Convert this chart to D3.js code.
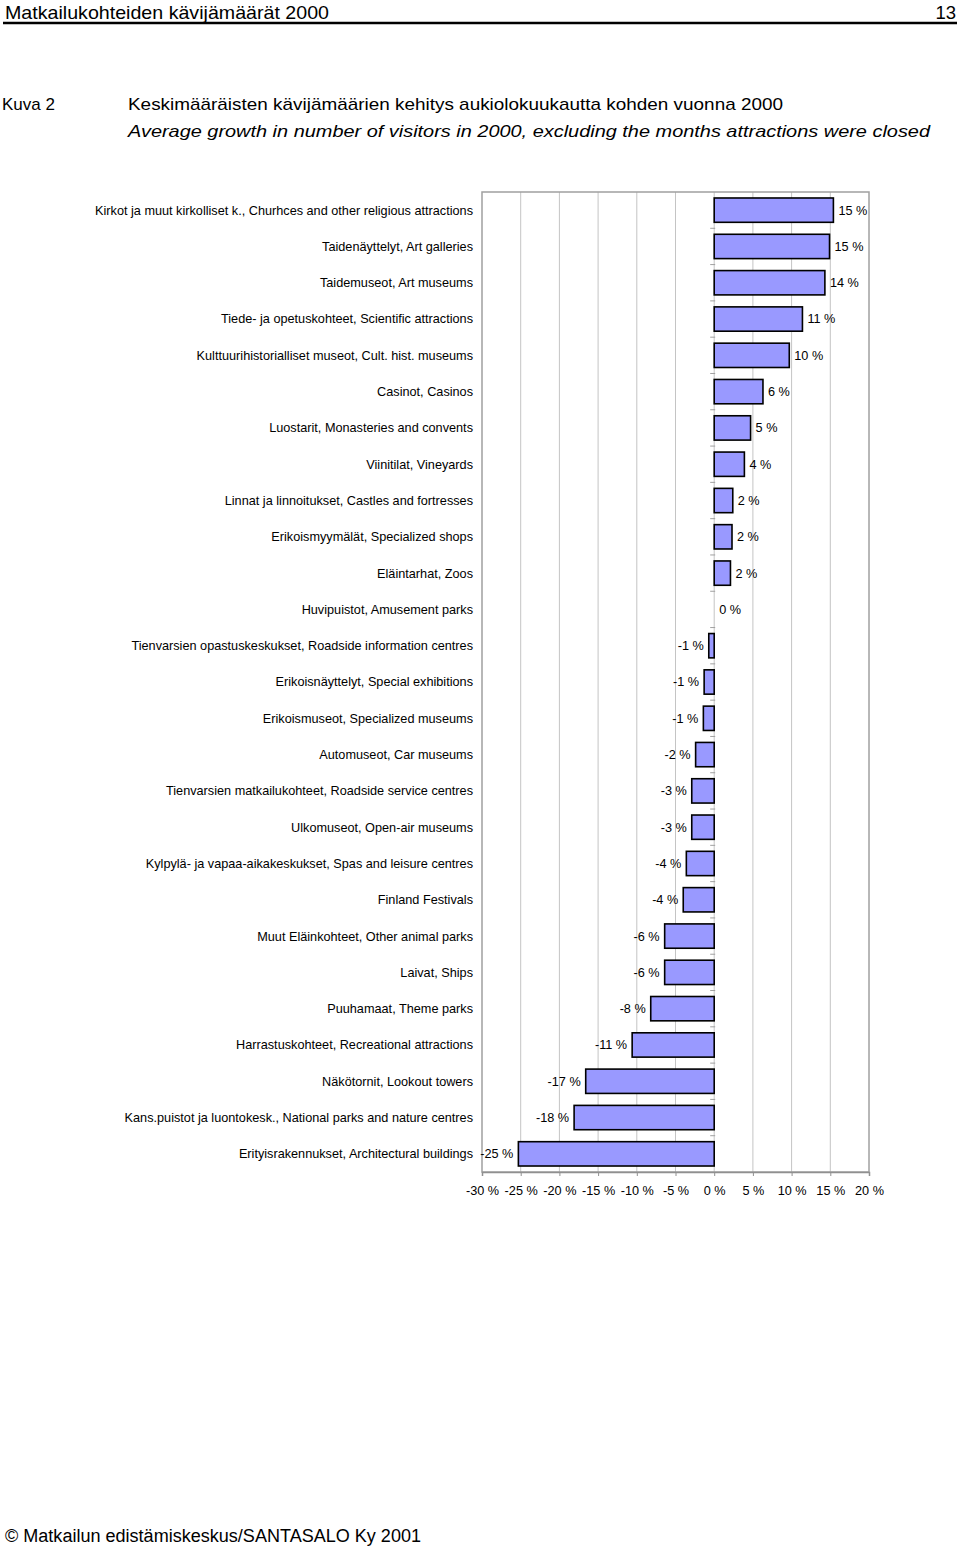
<!DOCTYPE html>
<html><head><meta charset="utf-8">
<script src="https://cdn.jsdelivr.net/npm/d3@7"></script>
<style>body{margin:0;background:#fff}svg{display:block;font-family:Arial,"Liberation Sans",sans-serif}</style>
</head><body>
<script>
const categories = [
 "Kirkot ja muut kirkolliset k., Churhces and other religious attractions",
 "Taidenäyttelyt, Art galleries",
 "Taidemuseot, Art museums",
 "Tiede- ja opetuskohteet, Scientific attractions",
 "Kulttuurihistorialliset museot, Cult. hist. museums",
 "Casinot, Casinos",
 "Luostarit, Monasteries and convents",
 "Viinitilat, Vineyards",
 "Linnat ja linnoitukset, Castles and fortresses",
 "Erikoismyymälät, Specialized shops",
 "Eläintarhat, Zoos",
 "Huvipuistot, Amusement parks",
 "Tienvarsien opastuskeskukset, Roadside information centres",
 "Erikoisnäyttelyt, Special exhibitions",
 "Erikoismuseot, Specialized museums",
 "Automuseot, Car museums",
 "Tienvarsien matkailukohteet, Roadside service centres",
 "Ulkomuseot, Open-air museums",
 "Kylpylä- ja vapaa-aikakeskukset, Spas and leisure centres",
 "Finland Festivals",
 "Muut Eläinkohteet, Other animal parks",
 "Laivat, Ships",
 "Puuhamaat, Theme parks",
 "Harrastuskohteet, Recreational attractions",
 "Näkötornit, Lookout towers",
 "Kans.puistot ja luontokesk., National parks and nature centres",
 "Erityisrakennukset, Architectural buildings"
];
const values = [15.4, 14.9, 14.3, 11.4, 9.7, 6.3, 4.7, 3.9, 2.4, 2.3, 2.1, 0, -0.7, -1.3, -1.4, -2.4, -2.9, -2.9, -3.6, -4.0, -6.4, -6.4, -8.2, -10.6, -16.6, -18.1, -25.3];
const valueLabels = ["15 %","15 %","14 %","11 %","10 %","6 %","5 %","4 %","2 %","2 %","2 %","0 %","-1 %","-1 %","-1 %","-2 %","-3 %","-3 %","-4 %","-4 %","-6 %","-6 %","-8 %","-11 %","-17 %","-18 %","-25 %"];
const xTicks = [-30,-25,-20,-15,-10,-5,0,5,10,15,20];

(function(){
const W = 960, H = 1546;
const svg = d3.select("body").append("svg").attr("width", W).attr("height", H);

// header
svg.append("text").attr("x", 5).attr("y", 19).attr("font-size", 18.5).attr("fill", "#000")
  .attr("textLength", 324).attr("lengthAdjust","spacingAndGlyphs")
  .text("Matkailukohteiden kävijämäärät 2000");
svg.append("text").attr("x", 956).attr("y", 19).attr("font-size", 18.5).attr("text-anchor","end").text("13");
svg.append("line").attr("x1", 3).attr("x2", 957).attr("y1", 23).attr("y2", 23).attr("stroke","#000").attr("stroke-width", 2.5);

// titles
svg.append("text").attr("x", 2).attr("y", 110).attr("font-size", 17).text("Kuva 2");
svg.append("text").attr("x", 128).attr("y", 110).attr("font-size", 17)
  .attr("textLength", 655).attr("lengthAdjust","spacingAndGlyphs")
  .text("Keskimääräisten kävijämäärien kehitys aukiolokuukautta kohden vuonna 2000");
svg.append("text").attr("x", 128).attr("y", 137).attr("font-size", 17).attr("font-style","italic")
  .attr("textLength", 802).attr("lengthAdjust","spacingAndGlyphs")
  .text("Average growth in number of visitors in 2000, excluding the months attractions were closed");

// footer
svg.append("text").attr("x", 5).attr("y", 1542).attr("font-size", 18)
  .attr("textLength", 416).attr("lengthAdjust","spacingAndGlyphs")
  .text("©  Matkailun edistämiskeskus/SANTASALO Ky 2001");

// chart
const pL = 482, pR = 869, pT = 192, pB = 1172;
const x = d3.scaleLinear().domain([-30, 20]).range([pL, pR]);
const y = d3.scaleBand().domain(categories).range([pT, pB]).paddingInner(0.33).paddingOuter(0.165);

const g = svg.append("g");
g.selectAll("line.grid").data(xTicks.filter(t => t > -30 && t < 20)).enter().append("line")
  .attr("x1", d => x(d)).attr("x2", d => x(d)).attr("y1", pT).attr("y2", pB)
  .attr("stroke", "#c4c4c4").attr("stroke-width", 1);
g.append("rect").attr("x", pL).attr("y", pT).attr("width", pR-pL).attr("height", pB-pT)
  .attr("fill","none").attr("stroke","#a0a0a0").attr("stroke-width",1.5);

const xAxis = d3.axisBottom(x).tickValues(xTicks).tickSize(4).tickPadding(10).tickFormat(d => d + " %");
const ax = svg.append("g").attr("transform", `translate(0,${pB})`).call(xAxis);
ax.select(".domain").attr("stroke","#909090").attr("stroke-width",1.5);
ax.selectAll(".tick line").attr("stroke","#909090");
ax.selectAll("text").attr("font-size", 12.7).attr("fill","#000").attr("font-family","Arial, 'Liberation Sans', sans-serif");

const bounds = d3.range(categories.length + 1).map(i => pT + i * (pB - pT) / categories.length);
g.selectAll("line.ct").data(bounds.slice(1, -1)).enter().append("line")
  .attr("x1", x(0) - 4).attr("x2", x(0) + 1).attr("y1", d => d).attr("y2", d => d)
  .attr("stroke","#a0a0a0").attr("stroke-width",1);

const data = categories.map((c, i) => ({c, v: values[i], l: valueLabels[i]}));
g.selectAll("rect.bar").data(data.filter(d => d.v !== 0)).enter().append("rect")
  .attr("x", d => x(Math.min(0, d.v))).attr("width", d => Math.abs(x(d.v) - x(0)))
  .attr("y", d => y(d.c)).attr("height", y.bandwidth())
  .attr("fill", "#9999ff").attr("stroke", "#000").attr("stroke-width", 1.6);

g.selectAll("text.vl").data(data).enter().append("text")
  .attr("x", d => d.v >= 0 ? x(d.v) + 5 : x(d.v) - 5)
  .attr("y", d => y(d.c) + y.bandwidth()/2).attr("dy","0.35em")
  .attr("text-anchor", d => d.v >= 0 ? "start" : "end")
  .attr("font-size", 12.7).text(d => d.l);

g.selectAll("text.cl").data(data).enter().append("text")
  .attr("x", 473).attr("y", d => y(d.c) + y.bandwidth()/2).attr("dy","0.35em")
  .attr("text-anchor","end").attr("font-size", 12.7).text(d => d.c);
})();
</script>
</body></html>
